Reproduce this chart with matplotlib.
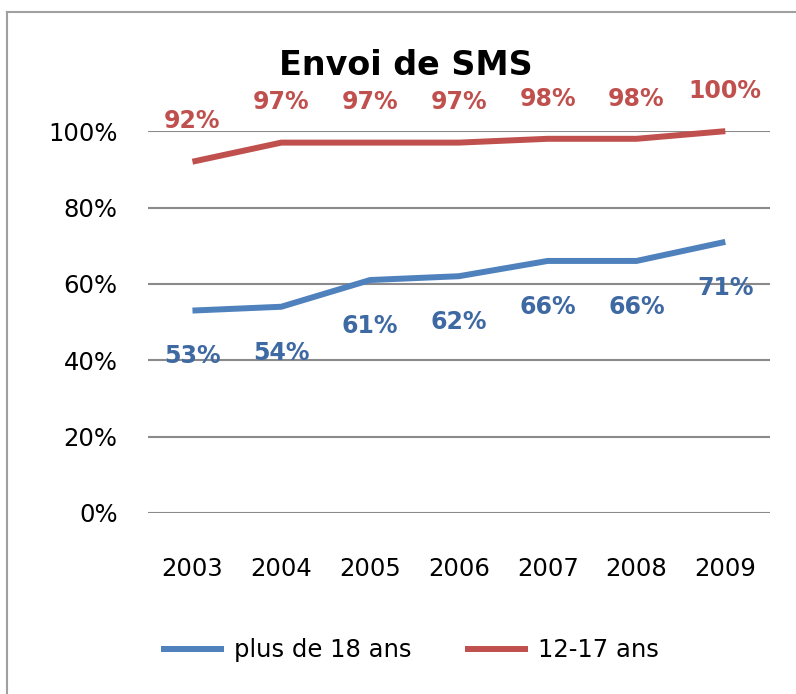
import matplotlib
matplotlib.use("Agg")
import matplotlib.pyplot as plt
from matplotlib.lines import Line2D

years = ["2003", "2004", "2005", "2006", "2007", "2008", "2009"]
adults = [53, 54, 61, 62, 66, 66, 71]
teens = [92, 97, 97, 97, 98, 98, 100]
y_ticks = [0, 20, 40, 60, 80, 100]

blue = "#4F81BD"
red = "#C0504D"

fig = plt.figure(figsize=(7.96, 6.94), dpi=100)
ax = fig.add_axes([0.186, 0.261, 0.781, 0.55])

x = range(len(years))
ax.plot(x, adults, color=blue, lw=4.3, label="plus de 18 ans", clip_on=False, solid_capstyle="butt")
ax.plot(x, teens, color=red, lw=4.3, label="12-17 ans", clip_on=False, solid_capstyle="butt")

# data labels
for i, v in enumerate(adults):
    ax.annotate(f"{v}%", (i, v), xytext=(0, -33), textcoords="offset points",
                ha="center", va="center", color="#3E69A3", fontsize=17, fontweight="bold")
for i, v in enumerate(teens):
    ax.annotate(f"{v}%", (i, v), xytext=(0, 29), textcoords="offset points",
                ha="center", va="center", color=red, fontsize=17, fontweight="bold")

ax.set_xlim(-0.5, 6.5)
ax.set_ylim(0, 100)
ax.set_yticks(y_ticks)
ax.set_yticklabels([f"{t}%" for t in y_ticks])
ax.set_xticks(list(x))
ax.set_xticklabels(years)
ax.grid(axis="y", color="#8A8A8A", lw=1.5)
ax.set_axisbelow(True)
for s in ax.spines.values():
    s.set_visible(False)
ax.tick_params(length=0, labelsize=17.5)
ax.tick_params(axis="x", pad=32)
ax.tick_params(axis="y", pad=22)

fig.text(0.51, 0.905, "Envoi de SMS", ha="center", va="center",
         fontsize=24, fontweight="bold")

fig.legend(loc="center", bbox_to_anchor=(0.515, 0.063), ncol=2, frameon=False,
           handlelength=2.6, columnspacing=2.2, handletextpad=0.4,
           prop={"size": 17.5})

# outer chart frame (left and top edges visible)
fig.add_artist(Line2D([0.009, 0.009], [0.0, 0.983], color="#A0A0A0", lw=1.5))
fig.add_artist(Line2D([0.009, 1.0], [0.983, 0.983], color="#A0A0A0", lw=1.5))

fig.savefig("out.png", dpi=100)
